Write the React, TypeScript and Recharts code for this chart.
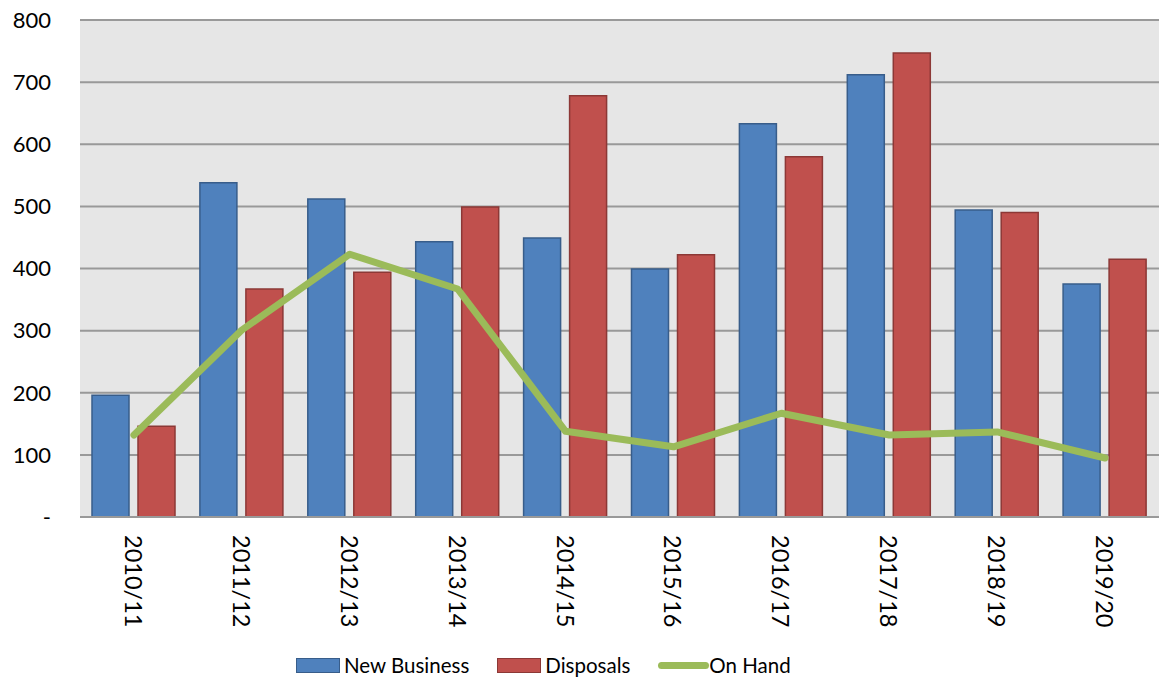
import React from 'react'
import {
  ComposedChart,
  Bar,
  Line,
  XAxis,
  YAxis,
  CartesianGrid,
} from 'recharts'

const years = ['2010/11', '2011/12', '2012/13', '2013/14', '2014/15', '2015/16', '2016/17', '2017/18', '2018/19', '2019/20']
const newBusiness = [196, 538, 512, 443, 449, 399, 633, 712, 494, 375]
const disposals = [146, 367, 394, 499, 678, 422, 580, 747, 490, 415]
const onHand = [132, 301, 423, 367, 138, 113, 167, 132, 137, 95]
const yTicks = [0, 100, 200, 300, 400, 500, 600, 700, 800]

const data = years.map((year, i) => ({
  year,
  newBusiness: newBusiness[i],
  disposals: disposals[i],
  onHand: onHand[i],
}))

const FONT = 'Lato, "Noto Sans", sans-serif'

// vertical category labels, reading top to bottom
const RotatedTick = ({ x, y, payload }: any) => (
  <text
    x={0}
    y={0}
    transform={`translate(${x},${y + 10}) rotate(90)`}
    textAnchor="start"
    dominantBaseline="central"
    fill="#000"
    fontSize={23.5}
    fontFamily={FONT}
  >
    {payload.value}
  </text>
)

const legendItems = [
  { label: 'New Business', kind: 'box', fill: '#4f81bd', stroke: '#385d8a' },
  { label: 'Disposals', kind: 'box', fill: '#c0504d', stroke: '#8c3836' },
  { label: 'On Hand', kind: 'line', fill: '#9bbb59', stroke: '#9bbb59' },
]

export default function App() {
  return (
    <div style={{ position: 'absolute', left: 0, top: 0, width: 1159, height: 682, background: '#fff', fontFamily: FONT }}>
      <ComposedChart
        width={1159}
        height={682}
        data={data}
        margin={{ top: 20, right: 0, left: 0, bottom: 65 }}
        barSize={37}
        barGap={9}
      >
        <CartesianGrid vertical={false} fill="#e6e6e6" stroke="#999999" strokeWidth={2} />
        <XAxis
          dataKey="year"
          height={100}
          axisLine={{ stroke: '#999999', strokeWidth: 2 }}
          tickLine={false}
          interval={0}
          tick={<RotatedTick />}
        />
        <YAxis
          width={80}
          domain={[0, 800]}
          ticks={yTicks}
          axisLine={false}
          tickLine={false}
          tickMargin={23}
          tickFormatter={(v: number) => (v === 0 ? '-' : String(v))}
          tick={{ fill: '#000', fontSize: 22, fontFamily: FONT }}
        />
        <Bar dataKey="newBusiness" fill="#4f81bd" stroke="#385d8a" strokeWidth={1.5} isAnimationActive={false} />
        <Bar dataKey="disposals" fill="#c0504d" stroke="#8c3836" strokeWidth={1.5} isAnimationActive={false} />
        <Line
          dataKey="onHand"
          type="linear"
          stroke="#9bbb59"
          strokeWidth={7}
          strokeLinecap="round"
          strokeLinejoin="round"
          dot={false}
          activeDot={false}
          isAnimationActive={false}
        />
      </ComposedChart>
      <div
        style={{
          position: 'absolute',
          left: 296,
          top: 653,
          display: 'flex',
          alignItems: 'center',
          fontSize: 20.5,
          color: '#000',
        }}
      >
        {legendItems.map((item) => (
          <div key={item.label} style={{ display: 'flex', alignItems: 'center', marginRight: 28 }}>
            {item.kind === 'box' ? (
              <span style={{ display: 'inline-block', width: 42, height: 13, background: item.fill, border: `1.5px solid ${item.stroke}`, marginRight: 4 }} />
            ) : (
              <span style={{ display: 'inline-block', width: 51, height: 7, borderRadius: 4, background: item.fill }} />
            )}
            <span>{item.label}</span>
          </div>
        ))}
      </div>
    </div>
  )
}
